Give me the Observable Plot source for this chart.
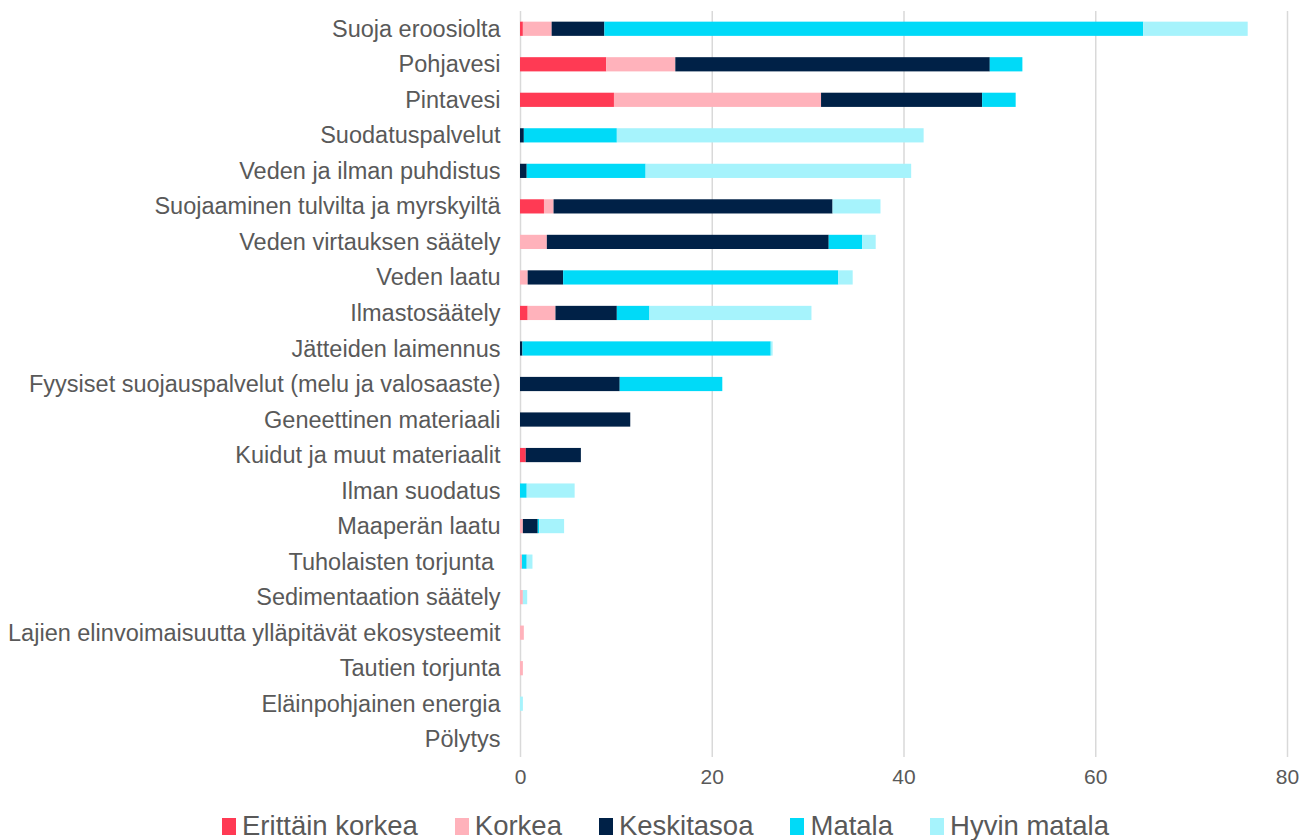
<!DOCTYPE html>
<html>
<head>
<meta charset="utf-8">
<script src="https://cdn.jsdelivr.net/npm/d3@7"></script>
<script src="https://cdn.jsdelivr.net/npm/@observablehq/plot@0.6"></script>
<style>
  body { margin: 0; background: #fff; font-family: "Liberation Sans", Arial, sans-serif; }
  #legend { display: flex; justify-content: center; align-items: center; gap: 37px; margin-top: 15px; padding-left: 28px; }
  .item { display: flex; align-items: center; gap: 6px; font-size: 27.5px; color: #595959; line-height: 32px; }
  .sw { width: 14px; height: 17px; display: inline-block; }
</style>
</head>
<body>
<div id="chart"></div>
<div id="legend"></div>
<script>
const categories = [
  "Suoja eroosiolta", "Pohjavesi", "Pintavesi", "Suodatuspalvelut", "Veden ja ilman puhdistus",
  "Suojaaminen tulvilta ja myrskyiltä", "Veden virtauksen säätely", "Veden laatu", "Ilmastosäätely",
  "Jätteiden laimennus", "Fyysiset suojauspalvelut (melu ja valosaaste)", "Geneettinen materiaali",
  "Kuidut ja muut materiaalit", "Ilman suodatus", "Maaperän laatu", "Tuholaisten torjunta ",
  "Sedimentaation säätely", "Lajien elinvoimaisuutta ylläpitävät ekosysteemit", "Tautien torjunta",
  "Eläinpohjainen energia", "Pölytys"
];
const series = ["Erittäin korkea", "Korkea", "Keskitasoa", "Matala", "Hyvin matala"];
const colors = ["#FF3A54", "#FFB2BB", "#002147", "#00DAF8", "#A6F3FC"];

const erittainKorkea = [0.3, 9.0, 9.8, 0, 0, 2.5, 0, 0, 0.8, 0, 0, 0, 0.6, 0, 0, 0, 0, 0, 0, 0, 0];
const korkea         = [3.0, 7.2, 21.6, 0, 0, 1.0, 2.8, 0.8, 2.9, 0, 0, 0, 0, 0, 0.3, 0.2, 0.3, 0.4, 0.3, 0, 0];
const keskitasoa     = [5.5, 32.8, 16.8, 0.4, 0.7, 29.1, 29.4, 3.7, 6.4, 0.25, 10.4, 11.5, 5.75, 0, 1.55, 0, 0, 0, 0, 0, 0];
const matala         = [56.2, 3.4, 3.5, 9.7, 12.4, 0, 3.5, 28.7, 3.4, 25.9, 10.7, 0, 0, 0.7, 0.15, 0.5, 0, 0, 0, 0, 0];
const hyvinMatala    = [10.9, 0, 0, 32.0, 27.7, 5.0, 1.4, 1.5, 16.9, 0.2, 0, 0, 0, 5.0, 2.6, 0.6, 0.45, 0, 0, 0.3, 0];
const xTicks = [0, 20, 40, 60, 80];

const seriesValues = [erittainKorkea, korkea, keskitasoa, matala, hyvinMatala];
const data = [];
categories.forEach((c, i) => {
  series.forEach((s, j) => {
    data.push({ category: c, level: s, value: seriesValues[j][i] });
  });
});

const chart = Plot.plot({
  width: 1303,
  height: 795,
  marginLeft: 520,
  marginRight: 16,
  marginTop: 11,
  marginBottom: 38,
  style: { fontFamily: '"Liberation Sans", Arial, sans-serif', color: "#595959", background: "#fff" },
  x: { domain: [0, 80], ticks: xTicks, label: null },
  y: { domain: categories, label: null, paddingInner: 0.6, paddingOuter: 0.3, round: false },
  color: { domain: series, range: colors },
  marks: [
    Plot.ruleX(xTicks, { stroke: "#d9d9d9", strokeWidth: 1.5 }),
    Plot.barX(data, { x: "value", y: "category", fill: "level", order: series }),
    Plot.axisX({ ticks: xTicks, tickSize: 0, tickPadding: 12, fontSize: 21, label: null, fill: "#595959" }),
    Plot.axisY({ tickSize: 0, tickPadding: 20, fontSize: 23.5, label: null, fill: "#595959" })
  ]
});
document.getElementById("chart").appendChild(chart);

const legend = document.getElementById("legend");
series.forEach((s, j) => {
  const item = document.createElement("div");
  item.className = "item";
  const sw = document.createElement("span");
  sw.className = "sw";
  sw.style.background = colors[j];
  const t = document.createElement("span");
  t.textContent = s;
  item.appendChild(sw);
  item.appendChild(t);
  legend.appendChild(item);
});
</script>
</body>
</html>
